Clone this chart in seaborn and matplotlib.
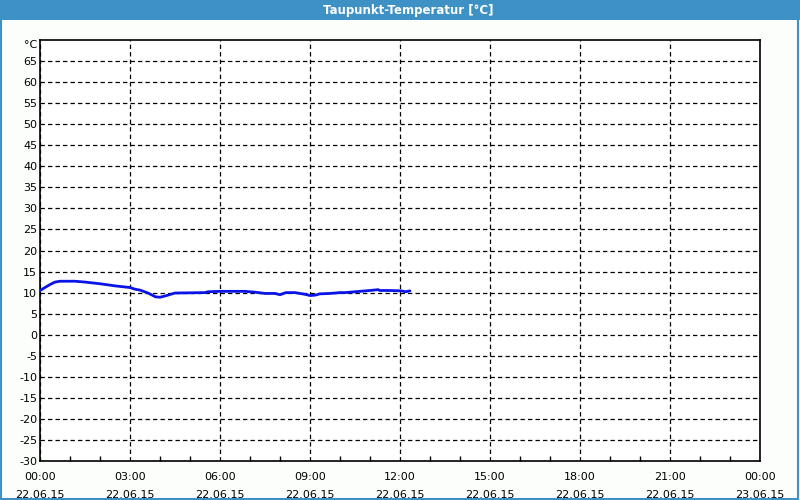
import matplotlib
matplotlib.use("Agg")
import matplotlib.pyplot as plt
import seaborn as sns
import pandas as pd
from matplotlib.patches import Rectangle
from matplotlib.ticker import MultipleLocator

# ---- data ----
hours = [0.0, 0.33, 0.5, 0.67, 1.17, 1.5, 2.0, 2.5, 3.0, 3.17, 3.33, 3.6, 3.85, 4.0,
         4.17, 4.5, 5.5, 5.6, 6.0, 6.83, 7.17, 7.5, 7.83, 8.0, 8.2, 8.5, 8.83, 9.0,
         9.17, 9.33, 9.67, 10.0, 10.17, 10.5, 10.83, 11.0, 11.27, 11.33, 11.67,
         12.07, 12.17, 12.33]
dewpoint = [10.5, 11.9, 12.5, 12.7, 12.7, 12.5, 12.1, 11.6, 11.2, 10.8, 10.6, 9.9,
            9.0, 8.9, 9.2, 9.9, 10.0, 10.2, 10.3, 10.3, 10.1, 9.8, 9.8, 9.5, 10.0,
            10.0, 9.6, 9.3, 9.4, 9.7, 9.8, 10.0, 10.0, 10.2, 10.4, 10.5, 10.7, 10.5,
            10.5, 10.4, 10.2, 10.4]

xtick_hours = [0, 3, 6, 9, 12, 15, 18, 21, 24]
xtick_labels = ["00:00\n22.06.15", "03:00\n22.06.15", "06:00\n22.06.15",
                "09:00\n22.06.15", "12:00\n22.06.15", "15:00\n22.06.15",
                "18:00\n22.06.15", "21:00\n22.06.15", "00:00\n23.06.15"]
ytick_values = list(range(-30, 70, 5))
title = "Taupunkt-Temperatur [°C]"
unit = "°C"

df = pd.DataFrame({"hours": hours, "dewpoint": dewpoint})

sns.set_theme(style="white")
plt.rcParams["font.family"] = ["DejaVu Sans"]

fig = plt.figure(figsize=(8, 5), dpi=100)
fig.patch.set_facecolor("#fbfefb")

blue = "#3d91c5"
# title bar
fig.patches.append(Rectangle((0, 0.96), 1, 0.04, transform=fig.transFigure,
                             facecolor=blue, edgecolor="none", zorder=0))
# outer border
fig.patches.append(Rectangle((0.001, 0.002), 0.997, 0.97, transform=fig.transFigure,
                             facecolor="none", edgecolor=blue, linewidth=1.5, zorder=0))
fig.text(0.51, 0.979, title, color="white", ha="center", va="center",
         fontsize=8.5, fontweight="bold")

ax = fig.add_axes([0.05, 0.078, 0.90, 0.842])
ax.set_facecolor("white")

sns.lineplot(data=df, x="hours", y="dewpoint", ax=ax, color="#0a14e6",
             linewidth=2.0, zorder=3)

ax.set_xlim(0, 24)
ax.set_ylim(-30, 70)
ax.set_xticks(xtick_hours)
ax.set_xticklabels(xtick_labels, fontsize=8, color="black", linespacing=1.95)
ax.set_yticks(ytick_values)
ax.set_yticklabels([str(v) for v in ytick_values], fontsize=8, color="black")
ax.xaxis.set_minor_locator(MultipleLocator(1))
ax.tick_params(axis="x", which="major", length=0, pad=8)
ax.tick_params(axis="x", which="minor", direction="in", length=3.5, width=1,
               color="black", bottom=True)
ax.tick_params(axis="y", which="major", length=0, pad=2)
ax.set_xlabel("")
ax.set_ylabel("")

ax.grid(True, which="major", color="black", linestyle=(0, (3.5, 2.5)),
        linewidth=0.9)
ax.set_axisbelow(True)
for s in ax.spines.values():
    s.set_visible(True)
    s.set_color("black")
    s.set_linewidth(1.2)

ax.text(-0.004, 0.987, unit, transform=ax.transAxes, ha="right", va="center",
        fontsize=8, color="black")

fig.savefig("out.png", dpi=100, facecolor=fig.get_facecolor())
